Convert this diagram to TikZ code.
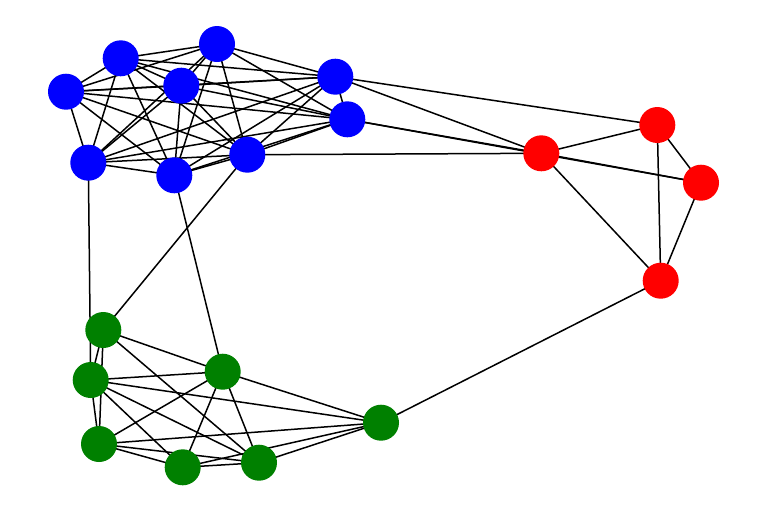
\documentclass[tikz,border=0pt]{standalone}
\pgfdeclarelayer{bg}
\pgfsetlayers{bg,main}
\begin{document}
\begin{tikzpicture}[x=1pt,y=-1pt,
  vtx/.style={circle,inner sep=0pt,minimum size=36pt,draw=none},
  bluev/.style={vtx,fill={rgb,255:red,0;green,0;blue,255}},
  redv/.style={vtx,fill={rgb,255:red,255;green,0;blue,0}},
  greenv/.style={vtx,fill={rgb,255:red,0;green,128;blue,0}},
  edge/.style={line width=1.5pt,black}]
\useasboundingbox (0,0) rectangle (768,512);
% blue
\node[bluev] (b1) at (120.7,58.3) {};
\node[bluev] (b2) at (217,44) {};
\node[bluev] (b3) at (66,91.7) {};
\node[bluev] (b4) at (181.3,85.7) {};
\node[bluev] (b5) at (335.3,76.7) {};
\node[bluev] (b6) at (347.3,119.3) {};
\node[bluev] (b7) at (88.3,162.7) {};
\node[bluev] (b8) at (174.3,175.3) {};
\node[bluev] (b9) at (247.3,154.7) {};
% red
\node[redv] (r1) at (541.3,153.3) {};
\node[redv] (r2) at (657.3,125) {};
\node[redv] (r3) at (701,182.7) {};
\node[redv] (r4) at (660.7,280.7) {};
% green
\node[greenv] (g1) at (103.3,330) {};
\node[greenv] (g2) at (90.7,380) {};
\node[greenv] (g3) at (222.7,371.7) {};
\node[greenv] (g4) at (99,444) {};
\node[greenv] (g5) at (182.7,467.3) {};
\node[greenv] (g6) at (259,462.7) {};
\node[greenv] (g7) at (381,422.7) {};
\begin{pgfonlayer}{bg}
% blue complete
\foreach \a/\b in {b1/b2,b1/b3,b1/b4,b1/b5,b1/b6,b1/b7,b1/b8,b1/b9,
  b2/b3,b2/b4,b2/b5,b2/b6,b2/b7,b2/b8,b2/b9,
  b3/b4,b3/b5,b3/b6,b3/b7,b3/b8,b3/b9,
  b4/b5,b4/b6,b4/b7,b4/b8,b4/b9,
  b5/b6,b5/b7,b5/b8,b5/b9,
  b6/b7,b6/b8,b6/b9,
  b7/b8,b7/b9,b8/b9}
  \draw[edge] (\a.center) -- (\b.center);
% red
\foreach \a/\b in {r1/r2,r1/r3,r1/r4,r2/r3,r2/r4,r3/r4}
  \draw[edge] (\a.center) -- (\b.center);
% green
\foreach \a/\b in {g1/g2,g1/g3,g1/g4,g1/g6,
  g2/g3,g2/g4,g2/g5,g2/g6,g2/g7,
  g3/g4,g3/g5,g3/g6,g3/g7,
  g4/g5,g4/g6,g4/g7,
  g5/g6,g5/g7,g6/g7}
  \draw[edge] (\a.center) -- (\b.center);
% between groups
\foreach \a/\b in {b5/r2,b5/r1,b6/r1,b6/r3,b9/r1,r4/g7,b7/g2,b9/g1,b8/g3}
  \draw[edge] (\a.center) -- (\b.center);
\end{pgfonlayer}
\end{tikzpicture}
\end{document}
